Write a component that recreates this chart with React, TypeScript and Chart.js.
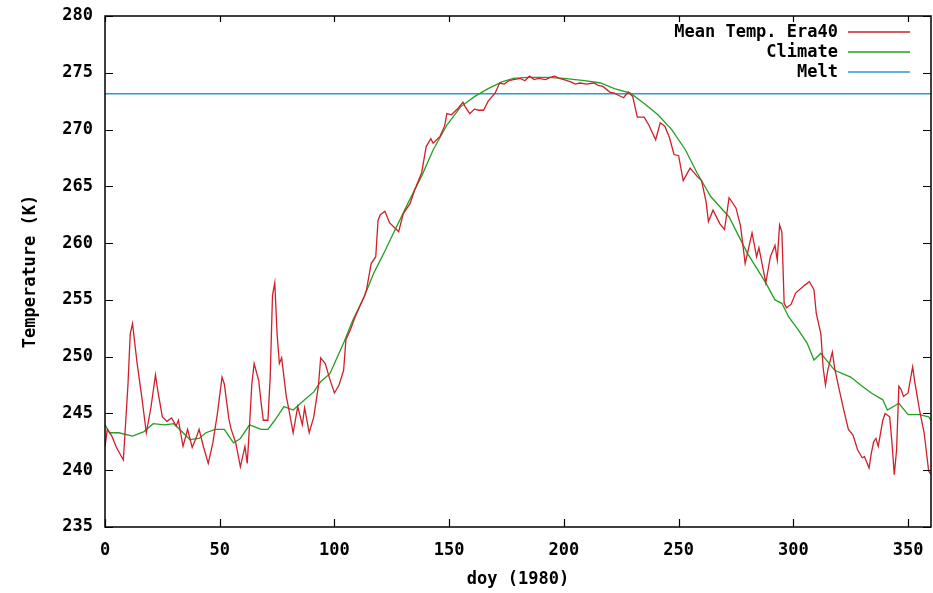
import React, { useEffect, useRef } from "react";
import { Chart, registerables } from "chart.js";

Chart.register(...registerables);

// Mean Temp. Era40
const era40Days = [
  0, 1, 3, 5, 8, 10, 11, 12, 14, 16, 18, 20, 22, 23, 25, 27, 29, 31, 32, 34, 36, 38, 40, 41, 43, 45, 47, 49,
  51, 52, 54, 55, 57, 59, 61, 62, 63, 64, 65, 67, 68, 69, 71, 72, 73, 74, 75, 76, 77, 79, 80, 82, 84, 86,
  87, 89, 91, 93, 94, 96, 98, 100, 102, 104, 105, 107, 109, 111, 113, 114, 116, 118, 119, 120, 122, 124,
  126, 128, 130, 133, 135, 138, 140, 142, 143, 146, 148, 149, 151, 154, 156, 157, 159, 161, 163, 165, 167,
  170, 172, 174, 176, 178, 181, 183, 185, 187, 189, 192, 194, 196, 198, 200, 203, 205, 207, 210, 213, 215,
  217, 220, 222, 224, 226, 228, 230, 232, 235, 237, 240, 242, 244, 246, 248, 250, 252, 255, 258, 260, 262,
  263, 265, 268, 270, 272, 275, 277, 279, 280, 282, 284, 285, 288, 290, 292, 293, 294, 295, 296, 297, 299,
  301, 305, 307, 309, 310, 312, 313, 314, 315, 317, 318, 320, 322, 324, 326, 328, 330, 331, 333, 334, 335,
  336, 337, 339, 340, 342, 343, 344, 345, 346, 347, 348, 350, 352, 353, 355, 357, 359, 361,
];
const era40Temp = [
  242.1, 243.6, 243.0, 242.0, 240.9, 247.5, 252.0, 252.9, 249.4, 246.5, 243.3, 245.5, 248.4, 247.0, 244.7,
  244.3, 244.6, 243.9, 244.4, 242.1, 243.6, 242.0, 243.0, 243.6, 242.0, 240.6, 242.4, 245.0, 248.2, 247.6,
  244.5, 243.6, 242.4, 240.3, 242.1, 240.6, 244.0, 247.6, 249.4, 247.9, 246.0, 244.4, 244.4, 248.2, 255.4,
  256.5, 252.0, 249.4, 249.9, 246.5, 245.5, 243.3, 245.6, 244.0, 245.5, 243.3, 244.7, 247.4, 249.9, 249.4,
  248.0, 246.8, 247.5, 248.8, 251.5, 252.4, 253.5, 254.4, 255.3, 255.9, 258.2, 258.8, 262.0, 262.5, 262.8,
  261.8, 261.4, 261.0, 262.6, 263.5, 264.7, 266.2, 268.5, 269.2, 268.8, 269.4, 270.3, 271.4, 271.3, 271.9,
  272.4, 272.0, 271.4, 271.8, 271.7, 271.7, 272.5, 273.2, 274.1, 274.0, 274.3, 274.4, 274.5, 274.3, 274.7,
  274.4, 274.5, 274.4, 274.6, 274.7, 274.5, 274.4, 274.2, 274.0, 274.1, 274.0, 274.1, 273.9, 273.8, 273.3,
  273.2, 273.0, 272.8, 273.3, 272.9, 271.1, 271.1, 270.4, 269.1, 270.6, 270.3, 269.3, 267.8, 267.7, 265.5,
  266.6, 265.9, 265.5, 263.6, 261.9, 262.9, 261.7, 261.2, 264.0, 263.1, 261.5, 258.2, 259.1, 260.9, 258.8,
  259.6, 256.5, 258.8, 259.8, 258.5, 261.6, 261.0, 254.7, 254.3, 254.6, 255.6, 256.3, 256.6, 255.9, 253.8,
  252.0, 249.0, 247.5, 248.8, 250.4, 249.0, 247.1, 245.3, 243.6, 243.1, 241.8, 241.1, 241.2, 240.2, 241.5,
  242.5, 242.8, 242.1, 244.4, 245.0, 244.7, 242.4, 239.6, 241.8, 247.4, 247.1, 246.5, 246.8, 249.1, 247.7,
  245.3, 243.3, 239.9, 239.4,
];

// Climate
const climateDays = [
  0, 2, 6, 12, 17, 21, 26, 30, 34, 37, 41, 44, 48, 52, 56, 59, 63, 68, 71, 74, 78, 82, 87, 91, 94, 98, 100,
  104, 108, 113, 117, 120, 122, 126, 132, 138, 143, 149, 155, 161, 167, 173, 178, 184, 193, 200, 209, 216,
  222, 229, 235, 241, 247, 253, 258, 264, 272, 280, 288, 292, 295, 298, 302, 306, 309, 312, 318, 325, 330,
  334, 339, 341, 346, 350, 355, 359, 361,
];
const climateTemp = [
  244.0, 243.3, 243.3, 243.0, 243.4, 244.1, 244.0, 244.1, 243.3, 242.7, 242.8, 243.3, 243.6, 243.6, 242.4,
  242.8, 244.0, 243.6, 243.6, 244.4, 245.6, 245.3, 246.2, 246.9, 247.8, 248.5, 249.4, 251.2, 253.2, 255.3,
  257.3, 258.5, 259.3, 261.0, 263.5, 265.9, 268.2, 270.4, 272.0, 272.9, 273.6, 274.2, 274.5, 274.6, 274.6,
  274.5, 274.3, 274.1, 273.6, 273.2, 272.3, 271.3, 270.0, 268.2, 266.2, 264.1, 262.3, 259.1, 256.5, 255.0,
  254.7, 253.5, 252.4, 251.2, 249.7, 250.3, 248.8, 248.2, 247.4, 246.8, 246.2, 245.3, 245.9, 244.9, 244.9,
  244.7, 244.1,
];

// Melt
const meltDays = [0, 360];
const meltLevel = 273.15;

const seriesLabels = ["Mean Temp. Era40", "Climate", "Melt"];
const seriesColors = ["#d01f2a", "#23a023", "#2a9cd0"];

const FONT = "'DejaVu Sans Mono', monospace";

const frameAndLegend = {
  id: "frameAndLegend",
  afterDatasetsDraw(chart: any) {
    const { ctx, chartArea, scales } = chart;
    const { left, right, top, bottom } = chartArea;
    ctx.save();
    ctx.strokeStyle = "#000";
    ctx.lineWidth = 1.5;
    ctx.strokeRect(left, top, right - left, bottom - top);
    ctx.lineWidth = 1.2;
    ctx.beginPath();
    for (const t of scales.x.ticks) {
      const px = Math.round(scales.x.getPixelForValue(t.value)) + 0.5;
      ctx.moveTo(px, bottom);
      ctx.lineTo(px, bottom - 8);
      ctx.moveTo(px, top);
      ctx.lineTo(px, top + 6);
    }
    for (const t of scales.y.ticks) {
      const py = Math.round(scales.y.getPixelForValue(t.value)) + 0.5;
      ctx.moveTo(left, py);
      ctx.lineTo(left + 8, py);
      ctx.moveTo(right, py);
      ctx.lineTo(right - 8, py);
    }
    ctx.stroke();

    // legend (gnuplot style: text right-aligned, sample line after)
    ctx.font = `bold 17px ${FONT}`;
    ctx.textAlign = "right";
    ctx.textBaseline = "middle";
    chart.data.datasets.forEach((ds: any, i: number) => {
      const y = top + 16 + i * 20;
      ctx.fillStyle = "#000";
      ctx.fillText(ds.label, right - 93, y + 1);
      ctx.strokeStyle = ds.borderColor;
      ctx.lineWidth = 1.5;
      ctx.beginPath();
      ctx.moveTo(right - 83, y);
      ctx.lineTo(right - 21, y);
      ctx.stroke();
    });
    ctx.restore();
  },
};

export default function App() {
  const ref = useRef<HTMLCanvasElement>(null);

  useEffect(() => {
    if (!ref.current) return;
    const tickFont = { family: FONT, size: 17, weight: "bold" as const };
    const chart = new Chart(ref.current, {
      type: "line",
      data: {
        datasets: [
          {
            label: seriesLabels[0],
            data: era40Days.map((d, i) => ({ x: d, y: era40Temp[i] })),
            borderColor: seriesColors[0],
            borderWidth: 1.3,
            pointRadius: 0,
            tension: 0,
          },
          {
            label: seriesLabels[1],
            data: climateDays.map((d, i) => ({ x: d, y: climateTemp[i] })),
            borderColor: seriesColors[1],
            borderWidth: 1.3,
            pointRadius: 0,
            tension: 0,
          },
          {
            label: seriesLabels[2],
            data: meltDays.map((d) => ({ x: d, y: meltLevel })),
            borderColor: seriesColors[2],
            borderWidth: 1.5,
            pointRadius: 0,
          },
        ],
      },
      options: {
        animation: false,
        responsive: false,
        events: [],
        layout: { padding: { top: 16, right: 2, left: 0, bottom: 0 } },
        plugins: { legend: { display: false }, tooltip: { enabled: false } },
        scales: {
          x: {
            type: "linear",
            min: 0,
            max: 360,
            grid: { display: false, drawTicks: false },
            border: { display: false },
            ticks: { stepSize: 50, includeBounds: false, padding: 13, color: "#000", font: tickFont, maxRotation: 0 },
            title: { display: true, text: "doy (1980)", color: "#000", font: tickFont, padding: { top: 4, bottom: 3 } },
            afterFit: (s: any) => {
              s.height = 66;
              s.paddingLeft = 0;
              s.paddingRight = 0;
            },
          },
          y: {
            type: "linear",
            min: 235,
            max: 280,
            grid: { display: false, drawTicks: false },
            border: { display: false },
            ticks: { stepSize: 5, padding: 12, color: "#000", font: tickFont },
            title: { display: true, text: "Temperature (K)", color: "#000", font: tickFont, padding: { top: 20, bottom: 4 } },
            afterFit: (s: any) => {
              s.width = 105;
              s.paddingTop = 0;
              s.paddingBottom = 0;
            },
          },
        },
      },
      plugins: [frameAndLegend],
    });
    return () => chart.destroy();
  }, []);

  return (
    <div style={{ position: "fixed", left: 0, top: 0, width: 933, height: 593, background: "#fff" }}>
      <canvas ref={ref} width={933} height={593} style={{ width: 933, height: 593, display: "block" }} />
    </div>
  );
}
